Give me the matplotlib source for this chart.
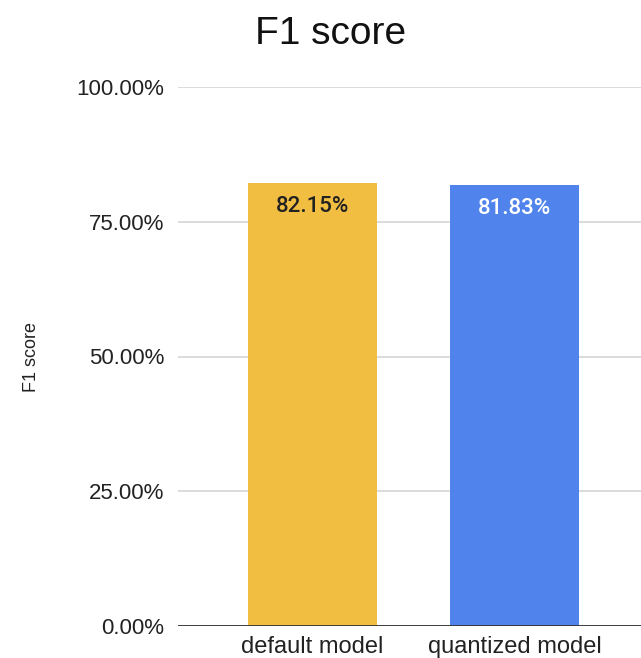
import matplotlib
matplotlib.use("Agg")
import matplotlib.pyplot as plt
from matplotlib.ticker import FuncFormatter

models = ["default model", "quantized model"]
f1_scores = [82.15, 81.83]
bar_colors = ["#f1be42", "#5084ec"]
label_colors = ["#222222", "#ffffff"]
y_ticks = [0, 25, 50, 75, 100]

plt.rcParams["font.family"] = ["Liberation Sans", "DejaVu Sans"]

fig = plt.figure(figsize=(6.41, 6.58), dpi=100)
# axes run off the right edge of the canvas
ax = fig.add_axes([178 / 641, 1 - 626 / 658, (641 - 178) / 641, 539 / 658])

x = list(range(len(models)))
ax.bar(x, f1_scores, width=0.639, color=bar_colors, zorder=3)

for xi, val, tc in zip(x, f1_scores, label_colors):
    ax.text(xi, val - 2.4, f"{val:.2f}%", ha="center", va="top",
            color=tc, fontsize=16, fontweight="medium",
            family=["Roboto", "DejaVu Sans"], zorder=4)

ax.set_xlim(-0.666, 1.626)
ax.set_ylim(0, 100)
ax.set_yticks(y_ticks)
ax.yaxis.set_major_formatter(FuncFormatter(lambda v, _: f"{v:.2f}%"))
ax.set_xticks(x)
ax.set_xticklabels(models, fontsize=17)

ax.grid(axis="y", color="#d9d9d9", linewidth=1.3, zorder=0)
ax.axhline(0, color="#333333", linewidth=1.3, zorder=4)
for s in ax.spines.values():
    s.set_visible(False)
ax.tick_params(axis="both", length=0, colors="#222222")
ax.tick_params(axis="y", labelsize=16, pad=10)
ax.tick_params(axis="x", pad=7)

fig.text(32 / 641, 1 - 357 / 658, "F1 score", rotation=90, ha="center",
         va="center", fontsize=13, color="#222222")
fig.text(331 / 641, 1 - 34 / 658, "F1 score", ha="center", va="center",
         fontsize=28, color="#111111")

fig.savefig("out.png", dpi=100)
